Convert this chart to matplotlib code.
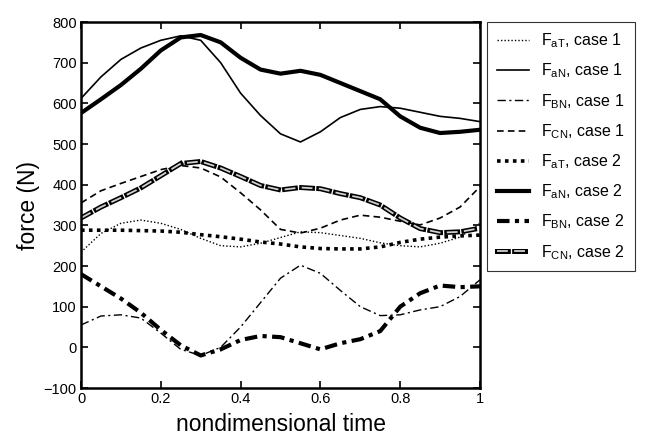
import numpy as np
import matplotlib as mpl
mpl.use('Agg')
import matplotlib.pyplot as plt
import matplotlib.patheffects as pe

plt.rcParams['font.family'] = ['Liberation Sans', 'DejaVu Sans']
plt.rcParams['mathtext.fontset'] = 'custom'
plt.rcParams['mathtext.rm'] = 'Liberation Sans'
plt.rcParams['mathtext.it'] = 'Liberation Sans'

# nondimensional time samples
t = [0.0, 0.05, 0.1, 0.15, 0.2, 0.25, 0.3, 0.35, 0.4, 0.45, 0.5,
     0.55, 0.6, 0.65, 0.7, 0.75, 0.8, 0.85, 0.9, 0.95, 1.0]

# case 1 forces (N)
faT_1 = [234, 280, 305, 313, 305, 290, 268, 250, 247, 256, 270,
         284, 282, 275, 268, 257, 250, 247, 256, 271, 305]
faN_1 = [612, 665, 708, 736, 755, 766, 755, 700, 625, 570, 525,
         505, 530, 565, 585, 592, 588, 578, 568, 563, 555]
fBN_1 = [55, 77, 80, 72, 35, -5, -20, 0, 50, 110, 170,
         202, 182, 140, 100, 78, 80, 92, 100, 125, 166]
fCN_1 = [355, 385, 403, 420, 437, 447, 441, 419, 380, 338, 290,
         281, 293, 313, 325, 320, 310, 301, 318, 345, 395]

# case 2 forces (N)
faT_2 = [288, 288, 288, 287, 286, 283, 277, 272, 266, 259, 254,
         247, 243, 242, 242, 247, 258, 266, 271, 274, 276]
faN_2 = [576, 610, 645, 685, 730, 762, 768, 750, 712, 683, 673,
         680, 670, 650, 630, 610, 568, 540, 527, 530, 535]
fBN_2 = [180, 150, 120, 85, 43, 5, -20, -5, 18, 28, 25,
         10, -5, 10, 20, 40, 100, 133, 152, 148, 150]
fCN_2 = [318, 345, 368, 392, 422, 452, 457, 441, 420, 398, 387,
         393, 390, 378, 368, 350, 318, 292, 282, 284, 293]

labels = [r'F$_{\mathregular{aT}}$, case 1', r'F$_{\mathregular{aN}}$, case 1',
          r'F$_{\mathregular{BN}}$, case 1', r'F$_{\mathregular{CN}}$, case 1',
          r'F$_{\mathregular{aT}}$, case 2', r'F$_{\mathregular{aN}}$, case 2',
          r'F$_{\mathregular{BN}}$, case 2', r'F$_{\mathregular{CN}}$, case 2']

fig = plt.figure(figsize=(6.46, 4.40), dpi=100)
ax = fig.add_axes([81/646, 52/440, 399/646, 366/440])

k = 'black'
ax.plot(t, faT_1, color=k, lw=1.0, linestyle=(0, (1, 1.5)), label=labels[0])
ax.plot(t, faN_1, color=k, lw=1.2, label=labels[1])
ax.plot(t, fBN_1, color=k, lw=1.0, linestyle=(0, (6, 2.5, 1.5, 2.5)), label=labels[2])
ax.plot(t, fCN_1, color=k, lw=1.2, linestyle=(0, (4, 2.5)), label=labels[3])
ax.plot(t, faT_2, color=k, lw=2.6, linestyle=(0, (1, 1.2)), label=labels[4])
ax.plot(t, faN_2, color=k, lw=3.0, label=labels[5])
ax.plot(t, fBN_2, color=k, lw=3.0, linestyle=(0, (3, 1.3, 1, 1.3)), label=labels[6])
ax.plot(t, fCN_2, color='#d0d0d0', lw=1.3, linestyle=(0, (6, 3.5)),
        path_effects=[pe.Stroke(linewidth=3.6, foreground='k', capstyle='projecting'),
                      pe.Normal()], label=labels[7])

ax.set_xlim(0, 1)
ax.set_ylim(-100, 800)
ax.set_xticks([0, 0.2, 0.4, 0.6, 0.8, 1])
ax.set_xticklabels(['0', '0.2', '0.4', '0.6', '0.8', '1'])
ax.set_yticks(range(-100, 801, 100))
ax.tick_params(direction='in', top=True, right=True, length=5, width=1.2,
               labelsize=10.5, pad=3)
for s in ax.spines.values():
    s.set_linewidth(1.8)

ax.set_xlabel('nondimensional time', fontsize=16.5, labelpad=5)
ax.set_ylabel('force (N)', fontsize=16.5, labelpad=3)

leg = fig.legend(loc='upper left', bbox_to_anchor=(487/646, 418/440),
                 fontsize=11.5, frameon=True, fancybox=False, borderaxespad=0,
                 handlelength=2.0, handletextpad=0.8, labelspacing=0.72,
                 borderpad=0.6)
leg.get_frame().set_edgecolor('black')
leg.get_frame().set_linewidth(0.8)

fig.savefig('out.png', dpi=100)
